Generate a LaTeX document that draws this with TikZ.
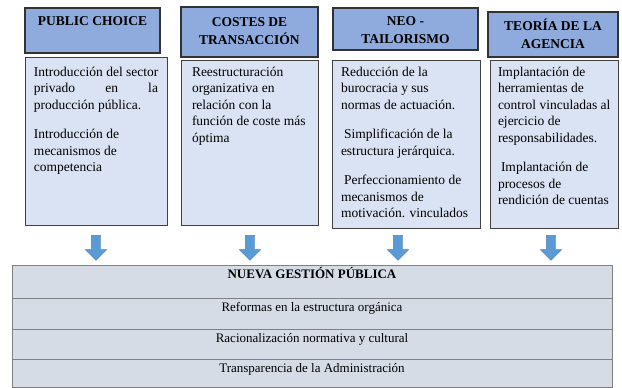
\documentclass[tikz,border=0pt]{standalone}
\usepackage{fontspec}
\setmainfont{Liberation Serif}
\usetikzlibrary{positioning,shapes.arrows}

\definecolor{headblue}{HTML}{8FAADC}
\definecolor{bodyblue}{HTML}{DAE3F3}
\definecolor{tablegray}{HTML}{D6DCE5}
\definecolor{arrowblue}{HTML}{5B9BD5}

\begin{document}
\begin{tikzpicture}[x=1pt,y=-1pt,outer sep=0pt]
		\tikzstyle{headbox}=[rectangle, draw=black!80, line width=1.1pt, fill=headblue, anchor=north west, inner sep=0pt]
		\tikzstyle{headtext}=[align=center, inner sep=0pt, font=\fontsize{13.5}{18}\selectfont\bfseries]
		\tikzstyle{bodybox}=[rectangle, draw=black!75, line width=1pt, fill=bodyblue, anchor=north west, inner sep=0pt]
		\tikzstyle{bodytext}=[align=left, inner sep=0pt, font=\fontsize{13.5}{16.5}\selectfont]
		\tikzstyle{downarrow}=[single arrow, shape border rotate=270, fill=arrowblue, draw=arrowblue!85!black, line width=0.4pt, inner sep=4.5pt, single arrow head extend=6pt, minimum height=25pt]
		\tikzstyle{tablerow}=[rectangle, draw=black!50, line width=0.8pt, fill=tablegray, anchor=north west, inner sep=0pt, minimum width=600pt, text height=13pt, font=\fontsize{13}{15}\selectfont]

		\useasboundingbox (0,0) rectangle (622,388);

		% cabeceras
		\node [headbox, minimum width=135pt, minimum height=45pt] (h1) at (25,8) {};
		\node [headbox, minimum width=137pt, minimum height=50pt] (h2) at (181,7) {};
		\node [headbox, minimum width=145pt, minimum height=42pt] (h3) at (333,8) {};
		\node [headbox, minimum width=130pt, minimum height=45pt] (h4) at (488,12) {};
		\node [headtext, below=9pt of h1.north] (h1t) {PUBLIC CHOICE};
		\node [headtext, below=11pt of h2.north] (h2t) {COSTES DE\\TRANSACCIÓN};
		\node [headtext, below=9pt of h3.north] (h3t) {NEO -\\TAILORISMO};
		\node [headtext, below=7pt of h4.north] (h4t) {TEORÍA DE LA\\AGENCIA};

		% cajas de contenido
		\node [bodybox, minimum width=142pt, minimum height=168pt] (b1) at (25,57) {};
		\node [bodybox, minimum width=137pt, minimum height=165pt] (b2) at (181,60) {};
		\node [bodybox, minimum width=148pt, minimum height=168pt] (b3) at (332,60) {};
		\node [bodybox, minimum width=128pt, minimum height=168pt] (b4) at (490,60) {};
		\node [bodytext, below right=10pt and 9pt of b1.north west] (b1t)
			{Introducción del sector\\\makebox[124pt][s]{privado en la}\\producción pública.\\[13pt]
			 Introducción de\\mecanismos de\\competencia};
		\node [bodytext, below right=7pt and 11pt of b2.north west] (b2t)
			{Reestructuración\\organizativa en\\relación con la\\función de coste más\\óptima};
		\node [bodytext, below right=7pt and 9pt of b3.north west] (b3t)
			{Reducción de la\\burocracia y sus\\normas de actuación.\\[13pt]
			 \hspace{3pt}Simplificación de la\\estructura jerárquica.\\[13pt]
			 \hspace{3pt}Perfeccionamiento de\\mecanismos de\\motivación. vinculados};
		\node [bodytext, below right=7pt and 8pt of b4.north west] (b4t)
			{Implantación de\\herramientas de\\control vinculadas al\\ejercicio de\\responsabilidades.\\[13pt]
			 \hspace{3pt}Implantación de\\procesos de\\rendición de cuentas};

		% flechas
		\node [downarrow] (a1) at (96,245.5) {};
		\node [downarrow] (a2) at (250,245.5) {};
		\node [downarrow] (a3) at (398,245.5) {};
		\node [downarrow] (a4) at (551,245.5) {};

		% tabla inferior
		\node [tablerow, text depth=20pt, font=\fontsize{13}{15}\selectfont\bfseries] (t0) at (12,265) {NUEVA GESTIÓN PÚBLICA};
		\node [tablerow, text depth=18pt] (t1) at (t0.south west) {Reformas en la estructura orgánica};
		\node [tablerow, text depth=17pt] (t2) at (t1.south west) {Racionalización normativa y cultural};
		\node [tablerow, text depth=15.5pt] (t3) at (t2.south west) {Transparencia de la Administración};
	\end{tikzpicture}
\end{document}
